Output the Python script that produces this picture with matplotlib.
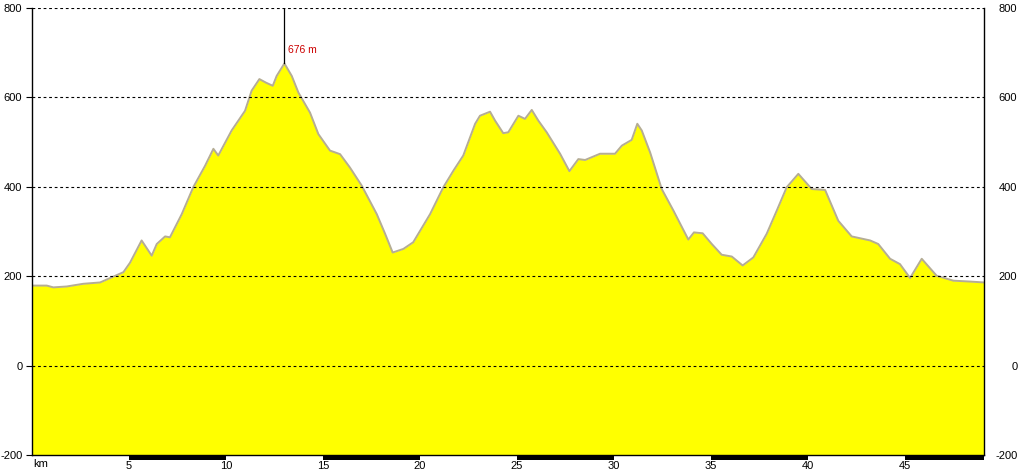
import matplotlib
matplotlib.use('Agg')
import matplotlib.pyplot as plt
from matplotlib.patches import Rectangle

# elevation profile (km, m)
dist_km = [0.00, 0.76, 1.10, 1.79, 2.64, 3.51, 4.19, 4.71, 5.05, 5.65,
           6.17, 6.43, 6.86, 7.11, 7.72, 8.31, 8.92, 9.35, 9.60, 10.29,
           10.98, 11.32, 11.72, 12.06, 12.41, 12.61, 13.01, 13.39, 13.73, 14.33,
           14.76, 15.36, 15.88, 16.39, 16.99, 17.77, 18.20, 18.59, 19.14, 19.65,
           20.52, 21.20, 21.72, 22.23, 22.84, 23.09, 23.61, 23.87, 24.29, 24.55,
           25.07, 25.41, 25.76, 26.10, 26.53, 27.22, 27.70, 28.16, 28.51, 29.28,
           30.05, 30.40, 30.91, 31.20, 31.43, 31.86, 32.46, 33.06, 33.83, 34.12,
           34.57, 35.04, 35.55, 36.07, 36.63, 37.18, 37.87, 38.39, 38.90, 39.50,
           40.19, 40.88, 41.56, 42.25, 43.20, 43.62, 44.23, 44.74, 45.26, 45.86,
           46.63, 47.49, 48.35, 49.07]
elev_m = [179, 179, 175, 177, 183, 186, 199, 209, 230, 280,
          246, 272, 289, 287, 339, 399, 447, 485, 470, 526,
          570, 615, 641, 633, 626, 648, 676, 648, 611, 566,
          518, 481, 473, 443, 403, 339, 295, 253, 261, 276,
          339, 399, 436, 470, 541, 559, 568, 548, 520, 522,
          559, 552, 572, 548, 522, 474, 435, 462, 460, 474,
          474, 492, 505, 541, 526, 477, 395, 347, 282, 298,
          296, 272, 248, 244, 224, 242, 295, 347, 399, 429,
          395, 393, 324, 289, 280, 272, 239, 227, 196, 239,
          201, 190, 188, 186]

y_ticks = [-200, 0, 200, 400, 600, 800]
x_ticks = [5, 10, 15, 20, 25, 30, 35, 40, 45]
peak_label = "676 m"

plt.rcParams['font.family'] = ['Liberation Sans', 'DejaVu Sans']
plt.rcParams['axes.unicode_minus'] = False

fig = plt.figure(figsize=(10.24, 4.70), dpi=100)
ax = fig.add_axes([32/1024, 15/470, (984-32)/1024, (455-8)/470])

ax.fill_between(dist_km, elev_m, -200, color='#ffff00', lw=0)
ax.plot(dist_km, elev_m, color='#b5ad95', lw=1.4)

ax.set_xlim(0, dist_km[-1])
ax.set_ylim(-200, 800)

for yv in y_ticks[1:]:
    ax.axhline(yv, color='black', lw=0.8, ls=(0, (2.5, 2.5)), zorder=3)

ax.set_yticks(y_ticks)
ax.tick_params(axis='y', labelsize=8, length=4, width=0.8, pad=3,
               direction='out', labelcolor='black')
# right-hand labels, no tick marks, right-aligned near the figure edge
ax2 = ax.secondary_yaxis('right')
ax2.set_yticks(y_ticks)
ax2.tick_params(axis='y', labelsize=8, length=0, pad=24, labelcolor='black')
ax2.spines['right'].set_visible(False)
for lbl in ax2.get_yticklabels():
    lbl.set_horizontalalignment('right')

ax.set_xticks(x_ticks)
ax.set_xticklabels([str(v) for v in x_ticks])
ax.tick_params(axis='x', labelsize=8, length=0, pad=4.5)
ax.text(0.05, -0.009, 'km', transform=ax.get_xaxis_transform(),
        ha='left', va='top', fontsize=8)

for s in ['left', 'right', 'bottom']:
    ax.spines[s].set_color('black')
    ax.spines[s].set_linewidth(1.0)
ax.spines['top'].set_visible(False)

# scale bar below axis, black every other 5 km
for k in range(5, int(dist_km[-1]) + 1, 10):
    w = min(5, dist_km[-1] - k)
    ax.add_patch(Rectangle((k, -0.011), w, 0.011, transform=ax.get_xaxis_transform(),
                           color='black', clip_on=False, lw=0, zorder=5))

# peak marker
i_max = elev_m.index(max(elev_m))
ax.plot([dist_km[i_max]] * 2, [elev_m[i_max], 800], color='black', lw=0.9, zorder=4)
ax.text(dist_km[i_max] + 0.2, elev_m[i_max] + 18, peak_label, color='#cc0000',
        fontsize=7.5, ha='left', va='bottom')

fig.savefig('out.png', dpi=100)
